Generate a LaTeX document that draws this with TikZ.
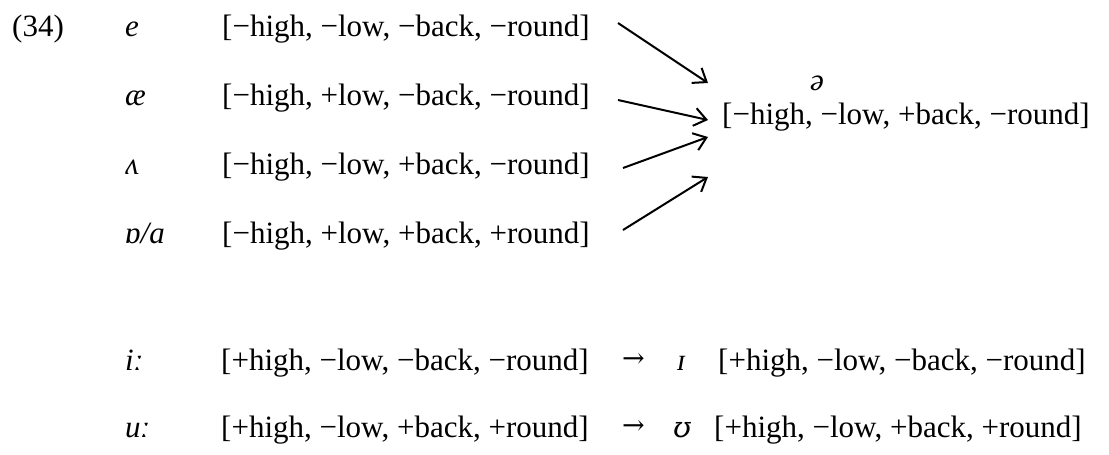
\documentclass[tikz,border=0pt]{standalone}
\usepackage{fontspec}
\setmainfont{Liberation Serif}
\newfontfamily\altipa{DejaVu Serif}
\usetikzlibrary{arrows.meta}
\begin{document}
\begin{tikzpicture}[x=1pt,y=-1pt,
  txt/.style={anchor=base west,inner sep=0pt,font=\fontsize{31}{37}\selectfont},
  ipa/.style={txt,font=\fontsize{31}{37}\selectfont\itshape},
  arr/.style={anchor=base west,inner sep=0pt,font=\fontsize{27}{32}\selectfont\altipa},
  conv/.style={line width=2pt,-{Straight Barb[length=12pt,width=18pt,line width=2pt]}}]
\useasboundingbox (0,0) rectangle (1109,455);
% example number
\node[txt] (num) at (12,36) {(34)};
% left column
\node[ipa] (p1) at (125,36) {e};
\node[txt] (f1) at (222,36) {[−high, −low, −back, −round]};
\node[ipa] (p2) at (125,105) {æ};
\node[txt] (f2) at (222,105) {[−high, +low, −back, −round]};
\node[ipa] (p3) at (125,174) {ʌ};
\node[txt] (f3) at (222,174) {[−high, −low, +back, −round]};
\node[ipa] (p4) at (125,243) {ɒ/a};
\node[txt] (f4) at (222,243) {[−high, +low, +back, +round]};
% target
\node[ipa] (schwa) at (810,90) {ə};
\node[txt] (ft) at (722,124) {[−high, −low, +back, −round]};
% arrows
\coordinate (s1) at (618,23);  \coordinate (e1) at (708,83);
\coordinate (s2) at (618,100); \coordinate (e2) at (708,120);
\coordinate (s3) at (623,168); \coordinate (e3) at (708,137);
\coordinate (s4) at (623,230); \coordinate (e4) at (708,177);
\draw[conv] (s1) -- (e1);
\draw[conv] (s2) -- (e2);
\draw[conv] (s3) -- (e3);
\draw[conv] (s4) -- (e4);
% bottom rows
\node[ipa] (p5) at (125,370) {iː};
\node[txt] (f5) at (221,370) {[+high, −low, −back, −round]};
\node[arr] (a5) at (622,367) {→};
\node[ipa] (q5) at (677,370) {ɪ};
\node[txt] (g5) at (718,370) {[+high, −low, −back, −round]};
\node[ipa] (p6) at (125,437) {uː};
\node[txt] (f6) at (221,437) {[+high, −low, +back, +round]};
\node[arr] (a6) at (622,434) {→};
\node[ipa,font=\fontsize{29}{37}\selectfont\altipa\itshape] (q6) at (673,437) {ʊ};
\node[txt] (g6) at (714,437) {[+high, −low, +back, +round]};
\end{tikzpicture}
\end{document}
